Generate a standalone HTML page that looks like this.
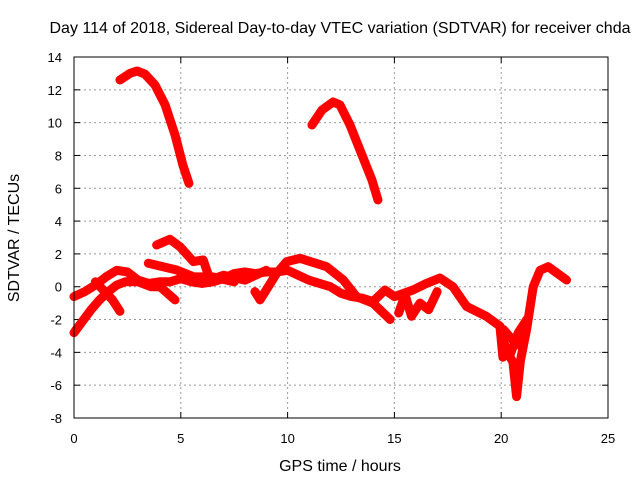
<!DOCTYPE html>
<html><head><meta charset="utf-8"><style>
body{margin:0;background:#fff}
svg{display:block;font-family:"Liberation Sans",sans-serif}
</style></head><body>
<svg id="c" width="640" height="480">
<text x="340" y="33" text-anchor="middle" font-size="16">Day 114 of 2018, Sidereal Day-to-day VTEC variation (SDTVAR) for receiver chda</text>
<text x="340" y="471" text-anchor="middle" font-size="16">GPS time / hours</text>
<text transform="translate(19,238) rotate(-90)" text-anchor="middle" font-size="16">SDTVAR / TECUs</text>
<g id="grid"></g><g id="marks"></g>
<rect x="74" y="57" width="534" height="361" fill="none" stroke="#000" stroke-width="1"/>
</svg>
<script>
const xTicks=[0,5,10,15,20,25];
const yTicks=[-8,-6,-4,-2,0,2,4,6,8,10,12,14];
const arcA=[[2.15,12.6],[2.62,13.0],[2.95,13.15],[3.32,12.96],[3.79,12.3],[4.26,11.1],[4.73,9.25],[5.1,7.4],[5.38,6.3]];
const arcB=[[11.14,9.86],[11.61,10.77],[12.13,11.26],[12.45,11.08],[12.92,9.86],[13.48,8.03],[13.95,6.5],[14.23,5.29]];
const band1=[[0,-0.6],[0.5,-0.3],[1,0.1],[1.5,0.6],[2,1.0],[2.5,0.9],[3,0.4],[3.5,0.2],[4,0.3],[4.5,0.3],[5,0.5],[5.5,0.3],[6,0.2],[6.5,0.3],[7,0.5],[7.5,0.8],[8,0.9],[8.5,0.8],[9,0.9],[9.5,0.9],[10,1.0],[10.5,0.7],[11,0.4],[11.5,0.2],[12,0],[12.5,-0.4],[13,-0.6],[13.5,-0.7],[14,-0.9],[14.56,-0.2],[15,-0.6],[15.87,-0.2],[16.5,0.2],[17.13,0.53],[17.74,0],[18.38,-1.2],[19.3,-1.8],[19.94,-2.4],[20.08,-4.3]];
const band2=[[0,-2.8],[0.4,-2.1],[0.8,-1.4],[1.2,-0.8],[1.6,-0.3],[2,0.1],[2.4,0.3],[3,0.3],[3.6,0.0],[4.03,0.0],[4.73,-0.8]];
const band3=[[1.0,0.3],[1.37,-0.2],[1.8,-0.8],[2.15,-1.5]];
const band4=[[3.87,2.54],[4.49,2.89],[4.96,2.44],[5.59,1.53],[6.05,1.63],[6.37,0.41],[7,0.7],[8,0.4],[9,1.0]];
const band5=[[3.48,1.43],[4.81,1.02],[5.59,0.61],[6.5,0.6],[7.5,0.3]];
const band6=[[8.47,-0.3],[8.71,-0.8],[9.49,0.82],[9.96,1.53],[10.58,1.73],[11.83,1.22],[12.61,0.41],[13.23,-0.61],[14.0,-1.0],[14.8,-2.0]];
const band7=[[15.2,-1.6],[15.5,-0.5],[15.8,-1.8],[16.2,-1.0],[16.6,-1.4],[17.0,-0.3]];
const band8=[[20.0,-3.0],[20.3,-4.0],[20.55,-4.6],[20.72,-6.7],[20.9,-4.5],[21.19,-2.6],[21.5,0.0],[21.82,1.0],[22.2,1.22],[23.06,0.41]];
const band9=[[20.1,-2.6],[20.5,-3.2],[20.9,-3.6],[21.2,-2.0],[20.8,-2.8],[20.4,-4.2]];
const series=[arcA,arcB,band1,band2,band3,band4,band5,band6,band7,band8,band9];
const X=v=>74+v*534/25, Y=v=>418-(v+8)*361/22;
const ns="http://www.w3.org/2000/svg";
const grid=document.getElementById('grid'), marks=document.getElementById('marks');
function mk(tag,at,parent){const e=document.createElementNS(ns,tag);for(const k in at)e.setAttribute(k,at[k]);parent.appendChild(e);return e;}
xTicks.forEach(t=>{
 if(t>0&&t<25){const l=mk('line',{x1:X(t),x2:X(t),y1:57,y2:418,stroke:'#999','stroke-dasharray':'2,3'},grid);
 
 }
 mk('line',{x1:X(t),x2:X(t),y1:418,y2:412,stroke:'#000'},grid);
 mk('line',{x1:X(t),x2:X(t),y1:57,y2:63,stroke:'#000'},grid);
 const tx=mk('text',{x:X(t),y:443,'text-anchor':'middle','font-size':13},grid);tx.textContent=t;
 
 
});
yTicks.forEach(t=>{
 if(t>-8&&t<14){const l=mk('line',{x1:74,x2:608,y1:Y(t),y2:Y(t),stroke:'#999','stroke-dasharray':'2,3'},grid);
 
 }
 mk('line',{x1:74,x2:80,y1:Y(t),y2:Y(t),stroke:'#000'},grid);
 mk('line',{x1:602,x2:608,y1:Y(t),y2:Y(t),stroke:'#000'},grid);
 const tx=mk('text',{x:62,y:Y(t)+5,'text-anchor':'end','font-size':13},grid);tx.textContent=t;
 
 
});
series.forEach((s,i)=>{
 const p=mk('polyline',{points:s.map(d=>X(d[0])+','+Y(d[1])).join(' '),fill:'none',stroke:'#f00','stroke-width':9,'stroke-linejoin':'round','stroke-linecap':'round'},marks);
 
 
});
</script>
</body></html>
